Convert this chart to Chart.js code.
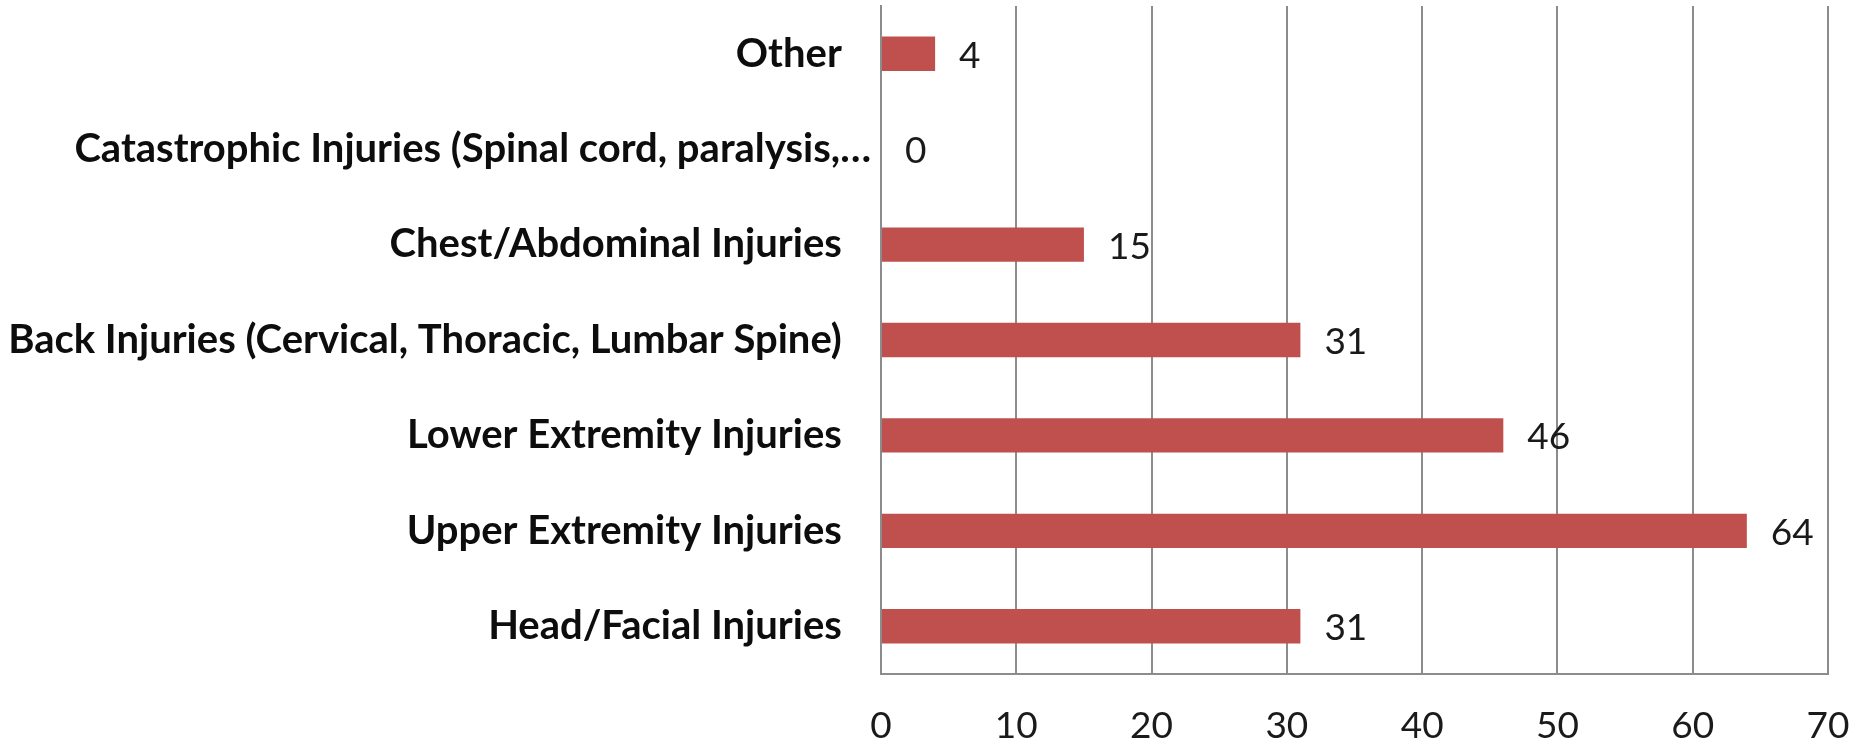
<!DOCTYPE html>
<html>
<head>
<meta charset="utf-8">
<script src="https://cdn.jsdelivr.net/npm/chart.js@4"></script>
<style>
  html, body { margin: 0; padding: 0; background: #fff; }
</style>
</head>
<body>
<canvas id="chart" width="1868" height="748"></canvas>
<script>
const categories = [
  'Other',
  'Catastrophic Injuries (Spinal cord, paralysis, brain injury)',
  'Chest/Abdominal Injuries',
  'Back Injuries (Cervical, Thoracic, Lumbar Spine)',
  'Lower Extremity Injuries',
  'Upper Extremity Injuries',
  'Head/Facial Injuries'
];
const counts = [4, 0, 15, 31, 46, 64, 31];
const xTicks = [0, 10, 20, 30, 40, 50, 60, 70];

const FONT = 'Lato';
const MAX_LABEL = 50;

// value labels next to the bar ends
const valueLabels = {
  id: 'valueLabels',
  afterDatasetsDraw(chart) {
    const ctx = chart.ctx;
    const meta = chart.getDatasetMeta(0);
    ctx.save();
    ctx.font = '37px "' + FONT + '"';
    ctx.fillStyle = '#1a1a1a';
    ctx.textAlign = 'left';
    ctx.textBaseline = 'middle';
    meta.data.forEach((bar, i) => {
      ctx.fillText(String(counts[i]), bar.x + 24, bar.y + 2);
    });
    ctx.restore();
  }
};

new Chart(document.getElementById('chart'), {
  type: 'bar',
  data: {
    labels: categories,
    datasets: [{
      data: counts,
      backgroundColor: '#c0504d',
      categoryPercentage: 1,
      barPercentage: 0.36
    }]
  },
  options: {
    indexAxis: 'y',
    responsive: false,
    animation: false,
    layout: { padding: { top: 6, right: 40, bottom: 0, left: 0 } },
    plugins: { legend: { display: false }, tooltip: { enabled: false } },
    scales: {
      x: {
        min: 0,
        max: 70,
        afterBuildTicks: (axis) => { axis.ticks = xTicks.map(v => ({ value: v })); },
        afterFit: (axis) => {
          axis.height = 74;
          axis.paddingLeft = 0;
          axis.paddingRight = 0;
        },
        grid: { color: '#8c8c8c', lineWidth: 2, drawTicks: false },
        border: { color: '#8c8c8c', width: 2 },
        ticks: { padding: 30, color: '#1a1a1a', font: { family: FONT, size: 37 } }
      },
      y: {
        afterFit: (axis) => {
          axis.width = 881;
          axis.paddingTop = 0;
          axis.paddingBottom = 0;
        },
        grid: { display: false, drawTicks: false },
        border: { color: '#8c8c8c', width: 2 },
        ticks: {
          padding: 10,
          color: '#0d0d0d',
          font: { family: FONT, size: 40, weight: 'bold' },
          callback: (v, i) => {
            const s = categories[i];
            // long names get cut like the spreadsheet did, the rest keep their trailing gap
            return s.length > MAX_LABEL ? s.slice(0, 46) + '\u2026' : s + '   ';
          }
        }
      }
    }
  },
  plugins: [valueLabels]
});
</script>
</body>
</html>
